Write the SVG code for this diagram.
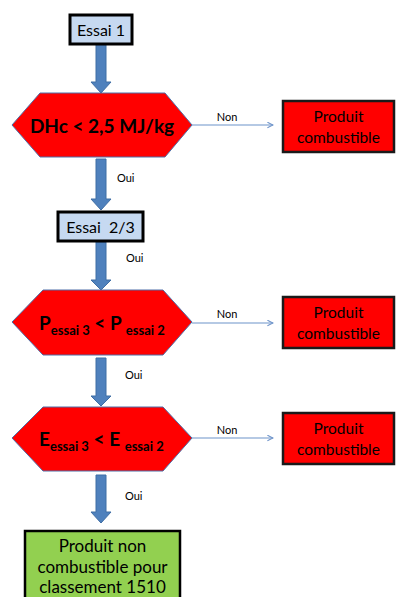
<svg xmlns="http://www.w3.org/2000/svg" width="397" height="597" viewBox="0 0 397 597">
<defs>
<style>
text{font-family:Lato,"Open Sans","Liberation Sans",sans-serif;fill:#000}
.start{fill:#c6d9f1;stroke:#000;stroke-width:3}
.hex{fill:#ff0000;stroke:#4f6fa8;stroke-width:1}
.red{fill:#ff0000;stroke:#1a1a1a;stroke-width:2.5}
.green{fill:#92d050;stroke:#000;stroke-width:2.5}
.bigarrow{fill:#4f81bd;stroke:#3f6ea5;stroke-width:1}
.conn{stroke:#6d93c9;stroke-width:1.2;fill:none}
.lbl{font-size:11px}
.ht{font-size:19px;font-weight:bold}
.sub{font-size:13px;font-weight:bold}
.rt{font-size:15.5px}
.gt{font-size:17px}
.st{font-size:16px}
</style>
<marker id="open" viewBox="0 0 10 10" refX="9" refY="5" markerWidth="7" markerHeight="7" markerUnits="userSpaceOnUse" orient="auto">
<path d="M1,1 L9,5 L1,9" fill="none" stroke="#6d93c9" stroke-width="1.5"/>
</marker>
</defs>

<g id="connectors">
<path class="bigarrow" d="M96,44 H106 V82 H111 L101,93 L91,82 H96 Z"/>
<path class="bigarrow" d="M96,159 H106 V199 H111 L101,210 L91,199 H96 Z"/>
<path class="bigarrow" d="M96,242 H106 V280 H111 L101,290 L91,280 H96 Z"/>
<path class="bigarrow" d="M96,358 H106 V396 H111 L101,406 L91,396 H96 Z"/>
<path class="bigarrow" d="M96,475 H106 V512 H111 L101,523 L91,512 H96 Z"/>
<line class="conn" x1="192" y1="125" x2="273" y2="125" marker-end="url(#open)"/>
<line class="conn" x1="192" y1="323" x2="273" y2="323" marker-end="url(#open)"/>
<line class="conn" x1="192" y1="438" x2="273" y2="438" marker-end="url(#open)"/>
<text class="lbl" x="117" y="182">Oui</text>
<text class="lbl" x="126" y="262">Oui</text>
<text class="lbl" x="125" y="379">Oui</text>
<text class="lbl" x="125" y="500">Oui</text>
<text class="lbl" x="227" y="121" text-anchor="middle">Non</text>
<text class="lbl" x="227" y="318" text-anchor="middle">Non</text>
<text class="lbl" x="227" y="434" text-anchor="middle">Non</text>
</g>

<g id="essai1">
<rect class="start" x="70" y="15" width="62" height="29"/>
<text class="st" x="101" y="36" text-anchor="middle">Essai 1</text>
</g>

<g id="test-dhc">
<polygon class="hex" points="12,125 40,93 165,93 192,125 165,157 40,157"/>
<text class="ht" x="102" y="133" text-anchor="middle">DHc &lt; 2,5 MJ/kg</text>
</g>

<g id="combustible1">
<rect class="red" x="283" y="101" width="111" height="51"/>
<text class="rt" x="338.5" y="122" text-anchor="middle">Produit</text>
<text class="rt" x="338.5" y="143" text-anchor="middle">combustible</text>
</g>

<g id="essai23">
<rect class="start" x="58" y="212" width="85" height="29"/>
<text class="st" x="100.5" y="233" text-anchor="middle" xml:space="preserve">Essai  2/3</text>
</g>

<g id="test-p">
<polygon class="hex" points="12,322 43,290 163,290 192,322 163,355 43,355"/>
<text class="ht" x="39" y="330">P<tspan class="sub" dy="5">essai 3</tspan><tspan dy="-5"> &lt; P </tspan><tspan class="sub" dy="5">essai 2</tspan></text>
</g>

<g id="combustible2">
<rect class="red" x="283" y="297" width="111" height="51"/>
<text class="rt" x="338.5" y="318" text-anchor="middle">Produit</text>
<text class="rt" x="338.5" y="339" text-anchor="middle">combustible</text>
</g>

<g id="test-e">
<polygon class="hex" points="12,438 43,407 163,407 192,438 163,471 43,471"/>
<text class="ht" x="39" y="446">E<tspan class="sub" dy="5">essai 3</tspan><tspan dy="-5"> &lt; E </tspan><tspan class="sub" dy="5">essai 2</tspan></text>
</g>

<g id="combustible3">
<rect class="red" x="283" y="413" width="111" height="51"/>
<text class="rt" x="338.5" y="434" text-anchor="middle">Produit</text>
<text class="rt" x="338.5" y="455" text-anchor="middle">combustible</text>
</g>

<g id="non-combustible">
<rect class="green" x="25" y="531" width="155" height="75"/>
<text class="gt" x="102.5" y="552" text-anchor="middle">Produit non</text>
<text class="gt" x="102.5" y="572.5" text-anchor="middle">combustible pour</text>
<text class="gt" x="102.5" y="593" text-anchor="middle">classement 1510</text>
</g>
</svg>
